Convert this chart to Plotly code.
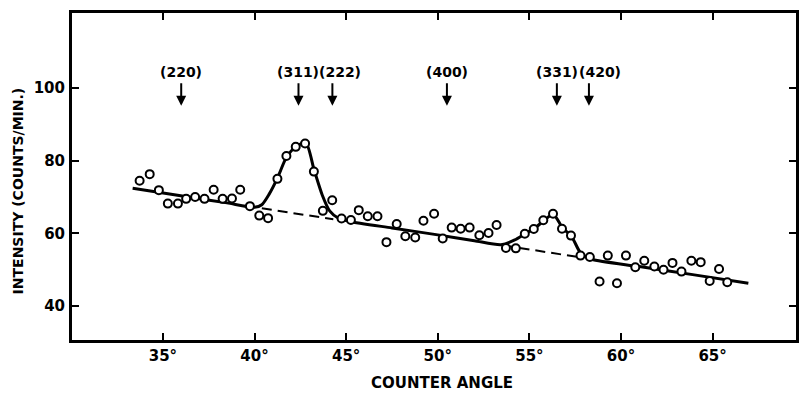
import plotly.graph_objects as go

# ---- data ----
angle = [33.73, 34.28, 34.78, 35.27, 35.82, 36.27, 36.76, 37.27, 37.77, 38.26,
         38.77, 39.22, 39.75, 40.26, 40.74, 41.25, 41.74, 42.25, 42.76, 43.24,
         43.73, 44.24, 44.75, 45.26, 45.69, 46.18, 46.71, 47.20, 47.76, 48.23,
         48.77, 49.22, 49.80, 50.27, 50.76, 51.25, 51.74, 52.27, 52.77, 53.21,
         53.72, 54.26, 54.75, 55.24, 55.76, 56.29, 56.78, 57.27, 57.79, 58.30,
         58.83, 59.28, 59.78, 60.27, 60.78, 61.27, 61.82, 62.32, 62.81, 63.30,
         63.84, 64.35, 64.84, 65.35, 65.80]
intensity = [74.5, 76.3, 71.9, 68.2, 68.2, 69.5, 70.0, 69.5, 72.0, 69.5,
             69.6, 72.0, 67.5, 64.9, 64.2, 75.0, 81.3, 83.8, 84.7, 77.0,
             66.2, 69.1, 64.1, 63.7, 66.4, 64.7, 64.7, 57.6, 62.6, 59.2,
             58.9, 63.5, 65.4, 58.6, 61.6, 61.3, 61.6, 59.5, 60.1, 62.3,
             56.0, 55.9, 59.9, 61.2, 63.6, 65.4, 61.3, 59.4, 53.9, 53.5,
             46.8, 53.9, 46.3, 53.9, 50.7, 52.5, 50.9, 50.0, 51.9, 49.5,
             52.5, 52.1, 46.9, 50.2, 46.6]

# hand-drawn fitted curve (knots)
curve_x = [33.35, 36.5, 38.5, 40.0, 40.4, 40.8, 41.25, 41.75, 42.25, 42.8,
           43.25, 43.7, 44.1, 44.6, 45.2, 47.5, 50.0, 52.0, 53.45, 54.2,
           54.75, 55.25, 55.75, 56.3, 56.8, 57.3, 57.8, 58.4, 61.0, 64.0,
           66.95]
curve_y = [72.4, 69.95, 68.4, 67.2, 67.9, 70.8, 75.2, 81.0, 83.8, 84.9,
           77.5, 70.5, 66.2, 64.1, 63.3, 61.5, 59.6, 58.0, 56.9, 58.2,
           59.9, 61.3, 63.3, 65.3, 61.6, 59.2, 54.6, 52.9, 50.9, 48.6,
           46.3]

# dashed background segments under the peaks
dash1_x = [40.4, 44.3]
dash1_y = [66.9, 63.9]
dash2_x = [53.6, 57.8]
dash2_y = [56.7, 53.4]

# reflection labels and their angles
refl_labels = ["(220)", "(311)", "(222)", "(400)", "(331)", "(420)"]
refl_angles = [36.0, 42.4, 44.25, 50.5, 56.5, 58.25]
label_shift = [0, 0, 8, 0, 0, 11]

x_ticks = [35, 40, 45, 50, 55, 60, 65]
x_ticktext = [f"{v}°" for v in x_ticks]
y_ticks = [40, 60, 80, 100]

arrow_tip = 95.1
label_y = 104.4

fig = go.Figure()
for dx, dy in [(dash1_x, dash1_y), (dash2_x, dash2_y)]:
    fig.add_trace(go.Scatter(x=dx, y=dy, mode="lines",
                             line=dict(color="black", width=2, dash="10px,6px"),
                             hoverinfo="skip"))
fig.add_trace(go.Scatter(x=curve_x, y=curve_y, mode="lines",
                         line=dict(color="black", width=3, shape="spline", smoothing=0.7),
                         hoverinfo="skip"))
fig.add_trace(go.Scatter(x=angle, y=intensity, mode="markers",
                         marker=dict(symbol="circle", size=8, color="white",
                                     line=dict(color="black", width=2))))

for lab, ang, sh in zip(refl_labels, refl_angles, label_shift):
    fig.add_annotation(x=ang, y=arrow_tip, text="", showarrow=True, ax=0, ay=-24,
                       arrowhead=2, arrowsize=1, arrowwidth=2, arrowcolor="black")
    fig.add_annotation(x=ang, y=label_y, text=lab, showarrow=False, xshift=sh,
                       xanchor="center", yanchor="middle",
                       font=dict(size=14, family="DejaVu Sans", color="black", weight="bold"))

# axis titles
fig.add_annotation(xref="paper", yref="paper", x=0, y=0.456, xshift=-54.5,
                   text="INTENSITY (COUNTS/MIN.)", textangle=-90, showarrow=False,
                   xanchor="center", yanchor="middle",
                   font=dict(size=14, family="DejaVu Sans", color="black", weight="bold"))
fig.add_annotation(xref="paper", yref="paper", x=0.511, y=0, yshift=-43,
                   text="COUNTER ANGLE", showarrow=False,
                   xanchor="center", yanchor="middle",
                   font=dict(size=15, family="DejaVu Sans", color="black", weight="bold"))

axis_common = dict(showline=True, linewidth=3, linecolor="black", mirror="ticks",
                   ticks="inside", ticklen=7, tickwidth=2, tickcolor="black",
                   showgrid=False, zeroline=False)
fig.update_xaxes(range=[30.04, 69.55], tickvals=x_ticks, ticktext=x_ticktext,
                 ticklabelstandoff=0, **axis_common)
fig.update_yaxes(range=[30.7, 120.6], tickvals=y_ticks, ticklabelstandoff=1, **axis_common)

fig.update_layout(width=800, height=396, margin=dict(l=72, r=1, t=13, b=56),
                  plot_bgcolor="white", paper_bgcolor="white", showlegend=False,
                  font=dict(family="DejaVu Sans", size=15, color="black", weight="bold"))

fig.write_html("out.html")
